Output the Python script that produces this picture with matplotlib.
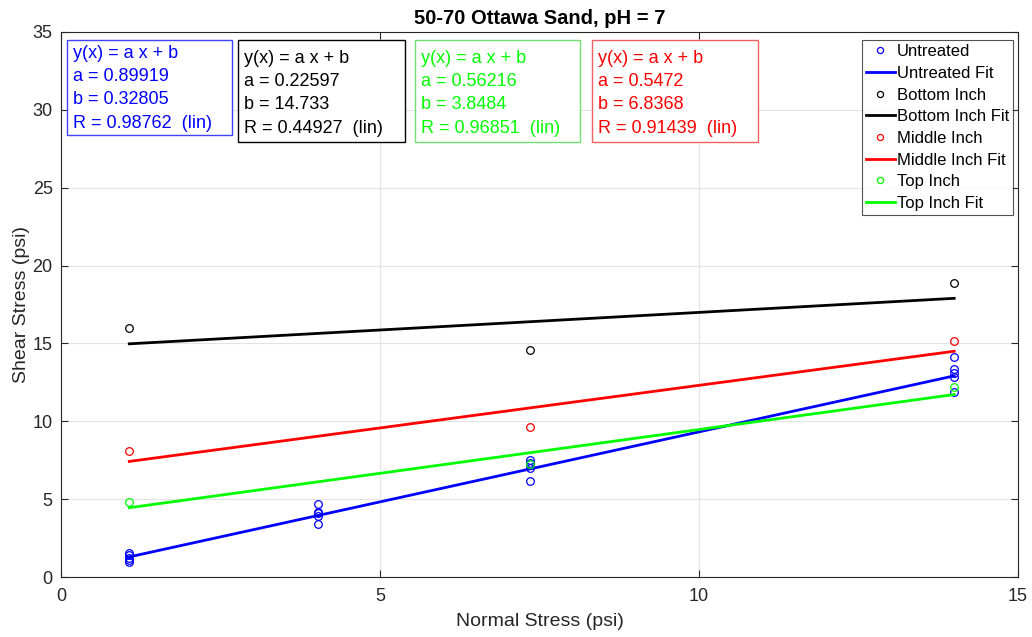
import numpy as np
import matplotlib.pyplot as plt
from matplotlib.patches import Rectangle

plt.rcParams['font.family'] = ['Liberation Sans', 'DejaVu Sans']

# data
x_untr = [1.07]*5 + [4.03]*5 + [7.35]*5 + [14.0]*5
y_untr = [1.55, 1.4, 1.25, 1.1, 0.95,
          4.69, 4.17, 4.11, 3.92, 3.40,
          7.51, 7.32, 7.26, 7.0, 6.17,
          14.1, 13.36, 13.1, 12.85, 11.88]
x_layer = [1.07, 7.35, 14.0]
y_bottom = [15.99, 14.55, 18.88]
y_middle = [8.09, 9.63, 15.16]
y_top = [4.82, 7.26, 12.2]

# fit coefficients a, b, R as printed on the chart
fits = {
    'Untreated': ('0.89919', '0.32805', '0.98762'),
    'Bottom Inch': ('0.22597', '14.733', '0.44927'),
    'Top Inch': ('0.56216', '3.8484', '0.96851'),
    'Middle Inch': ('0.5472', '6.8368', '0.91439'),
}

W, H = 1032, 637
fig = plt.figure(figsize=(W/100, H/100), dpi=100)
ax = fig.add_axes([61/W, 1-577/H, (1018-61)/W, (577-32)/H])

xf = np.array([1.07, 14.0])
series = [('Untreated', x_untr, y_untr, 'blue'),
          ('Bottom Inch', x_layer, y_bottom, 'black'),
          ('Middle Inch', x_layer, y_middle, 'red'),
          ('Top Inch', x_layer, y_top, '#00ff00')]
for name, xs, ys, c in series:
    a, b = float(fits[name][0]), float(fits[name][1])
    ax.plot(xs, ys, 'o', mfc='none', mec=c, ms=5.5, mew=0.9, label=name)
    ax.plot(xf, a*xf + b, '-', color=c, lw=2, label=name + ' Fit')

ax.set_xlim(0, 15)
ax.set_ylim(0, 35)
ax.set_xticks([0, 5, 10, 15])
ax.set_yticks(range(0, 36, 5))
ax.grid(True, color='#e3e3e3', lw=0.8)
ax.set_axisbelow(True)
ax.tick_params(labelsize=13, direction='in', length=5, width=0.8, colors='#262626',
               top=True, right=True)
ax.tick_params(axis='x', pad=8)
ax.tick_params(axis='y', pad=6)
for s in ax.spines.values():
    s.set_color('#262626')
ax.set_xlabel('Normal Stress (psi)', fontsize=14, color='#262626', labelpad=6)
ax.set_ylabel('Shear Stress (psi)', fontsize=14, color='#262626', labelpad=2)
ax.set_title('50-70 Ottawa Sand, pH = 7', fontsize=14.5, fontweight='bold', pad=6)

leg = ax.legend(loc='upper right', fontsize=12, frameon=True, fancybox=False,
                edgecolor='#262626', borderpad=0.25, labelspacing=0.4,
                handlelength=1.75, handletextpad=0.1, borderaxespad=0,
                markerscale=0.8,
                bbox_to_anchor=(1013/W, 1-40/H), bbox_transform=fig.transFigure)
leg.get_frame().set_linewidth(0.8)

# (text colour, edge colour, box left, right, bottom, text top)
boxes = [('Untreated', 'blue', '#4040ff', 67, 232, 135, 45),
         ('Bottom Inch', 'black', 'black', 238, 405, 142, 50),
         ('Top Inch', '#00ff00', '#70e070', 415, 580, 142, 50),
         ('Middle Inch', 'red', '#f06060', 592, 758, 142, 50)]
for name, c, ec, x0, x1, y1, ty in boxes:
    a, b, r = fits[name]
    fig.patches.append(Rectangle((x0/W, 1-y1/H), (x1-x0)/W, (y1-40)/H,
                                 transform=fig.transFigure, fc='white', ec=ec,
                                 lw=1.0, zorder=5))
    txt = 'y(x) = a x + b\na = %s\nb = %s\nR = %s  (lin)' % (a, b, r)
    fig.text((x0+6)/W, 1-ty/H, txt, color=c, fontsize=13, va='top', ha='left',
             linespacing=1.48, zorder=6)

fig.savefig('out.png', dpi=100)
